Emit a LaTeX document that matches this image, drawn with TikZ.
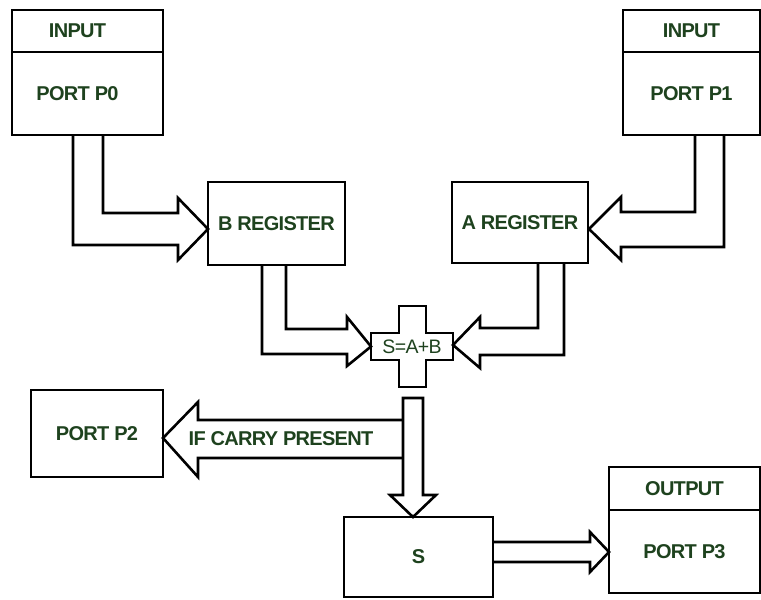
\documentclass[tikz,border=0pt]{standalone}
\usepackage{fontspec}
\setmainfont{Liberation Sans}
\newfontfamily\tightsans[LetterSpace=-3.5]{Liberation Sans}
\definecolor{labelgreen}{HTML}{1E421E}

\begin{document}
\begin{tikzpicture}[x=1pt, y=-1pt,
    box/.style={draw, line width=2.6pt, inner sep=0pt, text=labelgreen,
      font=\tightsans\fontsize{20}{22}\selectfont\bfseries},
    txt/.style={inner sep=0pt, text=labelgreen, font=\tightsans\fontsize{20}{22}\selectfont\bfseries},
    fat/.style={draw, line width=2.6pt, line join=miter}]
    \useasboundingbox (0,0) rectangle (761,600);

    % Eingangsports
    \node[box, minimum width=151pt, minimum height=42pt] (p0in) at (87.5,31) {INPUT\kern20pt};
    \node[box, minimum width=151pt, minimum height=83pt] (p0) at (87.5,93.5) {PORT P0\kern20pt};
    \node[box, minimum width=137pt, minimum height=42pt] (p1in) at (691.5,31) {INPUT};
    \node[box, minimum width=137pt, minimum height=83pt] (p1) at (691.5,93.5) {PORT P1};

    % Register
    \node[box, minimum width=137pt, minimum height=83pt] (breg) at (276.5,223.5) {B REGISTER};
    \node[box, minimum width=136pt, minimum height=81pt] (areg) at (520,222.5) {A REGISTER};

    % Addierer
    \draw[fat] (399,306) -- (426,306) -- (426,333) -- (453,333) -- (453,360) -- (426,360)
      -- (426,387) -- (399,387) -- (399,360) -- (371,360) -- (371,333) -- (399,333) -- cycle;
    \node[txt, font=\tightsans\fontsize{19.5}{22}\selectfont] (sum) at (412,346.5) {S=A+B};

    % Ausgaenge
    \node[box, minimum width=132pt, minimum height=87pt] (p2) at (97,433.5) {PORT P2};
    \node[box, minimum width=149pt, minimum height=80pt] (sbox) at (418.5,557) {S};
    \node[box, minimum width=151pt, minimum height=43pt] (p3out) at (684.5,488.5) {OUTPUT};
    \node[box, minimum width=151pt, minimum height=83pt] (p3) at (684.5,551.5) {PORT P3};

    % Blockpfeile
    \draw[fat] (73,135) -- (73,245) -- (178,245) -- (178,260) -- (208,229)
      -- (178,198) -- (178,213) -- (103,213) -- (103,135);
    \draw[fat] (695,135) -- (695,212) -- (621,212) -- (621,197) -- (589,229)
      -- (621,260) -- (621,247) -- (724,247) -- (724,135);
    \draw[fat] (262,265) -- (262,354) -- (347,354) -- (347,366) -- (371,346.5)
      -- (347,317) -- (347,329) -- (286,329) -- (286,265);
    \draw[fat] (564,263) -- (564,355) -- (480,355) -- (480,368) -- (453,345)
      -- (480,317) -- (480,328) -- (538,328) -- (538,263);
    \draw[fat] (403,398) -- (423,398) -- (423,495) -- (436,495) -- (413,517)
      -- (390,495) -- (403,495) -- cycle;
    \draw[fat] (403,420) -- (198,420) -- (198,402) -- (163,438) -- (198,477)
      -- (198,458) -- (403,458);
    \node[txt] (carry) at (281,439) {IF CARRY PRESENT};
    \draw[fat] (493,542) -- (590,542) -- (590,532) -- (609,552) -- (590,572)
      -- (590,562) -- (493,562);
  \end{tikzpicture}
\end{document}
